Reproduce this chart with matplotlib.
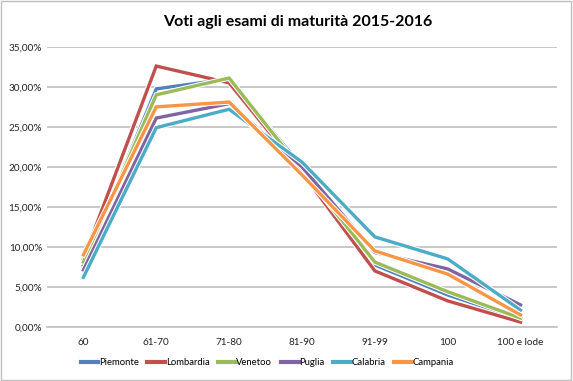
import matplotlib.pyplot as plt
import matplotlib.patheffects as pe
from matplotlib.ticker import FuncFormatter

categorie = ['60', '61-70', '71-80', '81-90', '91-99', '100', '100 e lode']
piemonte = [7.7, 29.75, 31.0, 20.0, 7.75, 4.0, 1.0]
lombardia = [8.5, 32.6, 30.5, 19.3, 7.0, 3.25, 0.6]
venetoo = [8.1, 29.0, 31.1, 19.6, 8.1, 4.4, 1.1]
puglia = [7.1, 26.1, 27.9, 20.0, 9.3, 7.25, 2.75]
calabria = [6.2, 24.9, 27.2, 20.6, 11.25, 8.5, 2.1]
campania = [9.0, 27.5, 28.1, 19.0, 9.5, 6.6, 1.5]

serie = [('Piemonte', piemonte, '#4F81BD'),
         ('Lombardia', lombardia, '#C0504D'),
         ('Venetoo', venetoo, '#9BBB59'),
         ('Puglia', puglia, '#8064A2'),
         ('Calabria', calabria, '#4BACC6'),
         ('Campania', campania, '#F79646')]

plt.rcParams['font.family'] = ['Lato', 'DejaVu Sans']

fig = plt.figure(figsize=(5.73, 3.81), dpi=100)
ax = fig.add_axes([0.082, 0.142, 0.890, 0.735])

x = list(range(len(categorie)))
for nome, valori, colore in serie:
    ax.plot(x, [v / 100 for v in valori], color=colore, lw=2.4, label=nome,
            solid_joinstyle='miter',
            path_effects=[pe.Stroke(linewidth=3.9, foreground='white'), pe.Normal()])

ax.set_xlim(-0.5, len(categorie) - 0.5)
ax.set_ylim(0, 0.35)
ax.set_xticks(x)
ax.set_xticklabels(categorie)
ax.set_yticks([i * 0.05 for i in range(8)])
ax.yaxis.set_major_formatter(FuncFormatter(lambda v, p: f'{v * 100:.2f}%'.replace('.', ',')))
ax.tick_params(length=0, labelsize=7.2, colors='#222222')
ax.tick_params(axis='x', pad=8)
ax.grid(axis='y', color='#BFBFBF', lw=1.2)
ax.set_axisbelow(True)
for s in ['top', 'right', 'left']:
    ax.spines[s].set_visible(False)
ax.spines['bottom'].set_color('#BFBFBF')
ax.spines['bottom'].set_linewidth(1.2)

fig.suptitle('Voti agli esami di maturità 2015-2016', fontsize=11.5, fontweight='bold',
             y=0.96, x=0.52)

leg = fig.legend(loc='center', bbox_to_anchor=(0.466, 0.048), ncol=6, frameon=False,
                 fontsize=6.8, handlelength=1.9, handletextpad=0.05, columnspacing=0.9)
for h in leg.legend_handles:
    h.set_path_effects([])
    h.set_linewidth(3)

fig.patches.append(plt.Rectangle((0.002, 0.003), 0.995, 0.994, transform=fig.transFigure,
                                 fill=False, edgecolor='#BFBFBF', lw=1))

fig.savefig('out.png', dpi=100)
